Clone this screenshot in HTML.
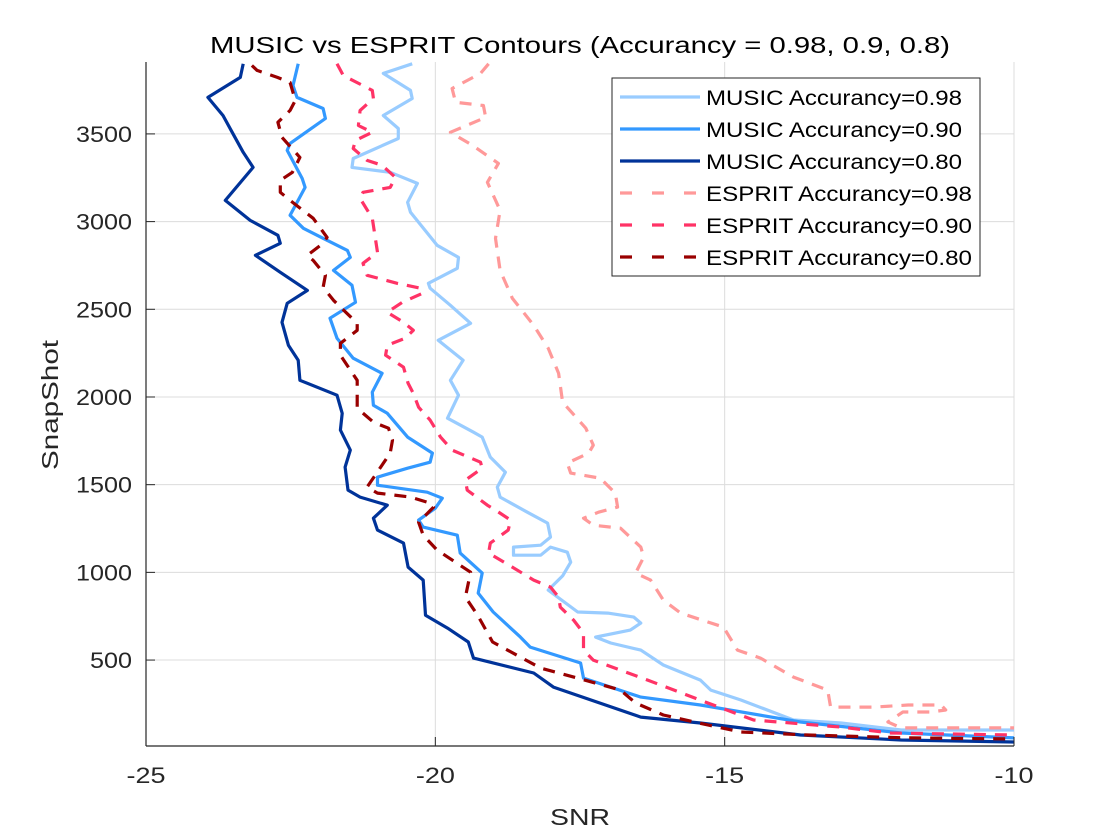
<!DOCTYPE html>
<html><head><meta charset="utf-8"><style>
body{margin:0;background:#fff;}
svg{display:block;font-family:"Liberation Sans",Arial,sans-serif;}
</style></head><body>
<svg id="chart" width="1120" height="840" viewBox="0 0 1120 840">
<rect x="0" y="0" width="1120" height="840" fill="#fff"/>
<g id="grid"></g>
<g id="series"></g>
<g id="axes"></g>
<text x="580" y="53" font-size="23" text-anchor="middle" fill="#000" textLength="740" lengthAdjust="spacingAndGlyphs">MUSIC vs ESPRIT Contours (Accurancy = 0.98, 0.9, 0.8)</text>
<text x="580" y="825" font-size="23" text-anchor="middle" fill="#262626" textLength="60" lengthAdjust="spacingAndGlyphs">SNR</text>
<text x="58" y="405" font-size="23" text-anchor="middle" fill="#262626" textLength="130" lengthAdjust="spacingAndGlyphs" transform="rotate(-90 58 405)">SnapShot</text>
<g id="legend"></g>
</svg>
<script>
const xTicks=[-25,-20,-15,-10];
const yTicks=[500,1000,1500,2000,2500,3000,3500];
const seriesNames=["MUSIC Accurancy=0.98","MUSIC Accurancy=0.90","MUSIC Accurancy=0.80","ESPRIT Accurancy=0.98","ESPRIT Accurancy=0.90","ESPRIT Accurancy=0.80"];
const musicA98=[[-20.40,3900],[-20.90,3845],[-20.43,3748],[-20.40,3702],[-20.90,3605],[-20.64,3531],[-20.64,3474],[-21.42,3360],[-21.44,3309],[-20.78,3281],[-20.31,3218],[-20.48,3110],[-20.43,3053],[-19.97,2865],[-19.60,2796],[-19.62,2734],[-20.12,2648],[-20.09,2620],[-19.74,2523],[-19.39,2420],[-19.95,2323],[-19.52,2209],[-19.74,2095],[-19.60,2010],[-19.79,1879],[-19.34,1799],[-19.19,1771],[-19.05,1657],[-18.79,1571],[-18.93,1486],[-18.88,1429],[-18.41,1343],[-18.06,1281],[-18.01,1201],[-18.18,1155],[-18.65,1144],[-18.65,1098],[-18.18,1098],[-18.01,1144],[-17.72,1115],[-17.66,1058],[-17.80,980],[-18.05,899],[-17.54,774],[-17.02,768],[-16.57,745],[-16.45,711],[-16.63,671],[-17.23,631],[-16.97,597],[-16.45,557],[-16.06,472],[-15.42,386],[-15.24,329],[-14.72,272],[-13.81,158],[-12.99,141],[-11.95,101],[-10,101]];
const musicA90=[[-22.37,3900],[-22.46,3776],[-22.39,3708],[-21.94,3645],[-21.90,3588],[-22.51,3446],[-22.56,3406],[-22.30,3246],[-22.25,3195],[-22.51,3036],[-22.28,2962],[-21.94,2905],[-21.52,2836],[-21.47,2796],[-21.76,2722],[-21.44,2637],[-21.38,2540],[-21.82,2449],[-21.70,2335],[-21.42,2221],[-20.92,2135],[-21.09,2027],[-21.07,1953],[-20.83,1907],[-20.48,1771],[-20.05,1680],[-20.09,1628],[-20.48,1594],[-21.00,1543],[-21.00,1497],[-20.14,1457],[-19.88,1423],[-20.00,1366],[-20.29,1298],[-20.21,1258],[-19.62,1212],[-19.57,1110],[-19.19,996],[-19.26,882],[-19.00,774],[-18.53,631],[-18.36,574],[-17.49,483],[-17.44,397],[-16.45,289],[-15.42,244],[-13.69,147],[-11.95,84],[-10,56]];
const musicA80=[[-23.32,3900],[-23.37,3822],[-23.93,3708],[-23.67,3605],[-23.51,3509],[-23.32,3395],[-23.15,3309],[-23.63,3121],[-23.20,3007],[-22.72,2922],[-22.68,2876],[-23.11,2808],[-22.68,2711],[-22.21,2608],[-22.56,2534],[-22.65,2426],[-22.54,2295],[-22.37,2209],[-22.34,2095],[-21.70,2010],[-21.61,1907],[-21.64,1811],[-21.47,1697],[-21.56,1600],[-21.51,1469],[-21.30,1429],[-20.83,1383],[-21.07,1309],[-21.00,1241],[-20.55,1167],[-20.47,1030],[-20.21,956],[-20.17,756],[-19.79,682],[-19.43,603],[-19.34,511],[-18.30,426],[-17.96,346],[-16.45,175],[-15.42,141],[-13.69,73],[-11.95,44],[-10,33]];
const espritA98=[[-19.08,3900],[-19.22,3845],[-19.71,3759],[-19.65,3680],[-19.17,3662],[-19.13,3594],[-19.74,3509],[-19.36,3435],[-18.91,3332],[-19.10,3224],[-18.88,3064],[-18.96,2905],[-18.88,2722],[-18.67,2563],[-18.30,2409],[-18.05,2278],[-17.87,2135],[-17.80,1970],[-17.40,1822],[-17.27,1725],[-17.35,1680],[-17.72,1623],[-17.66,1566],[-17.15,1537],[-16.89,1452],[-16.85,1372],[-17.18,1343],[-17.44,1309],[-17.27,1269],[-16.80,1252],[-16.45,1144],[-16.40,1087],[-16.54,996],[-16.28,956],[-16.06,842],[-15.76,768],[-15.02,688],[-14.78,557],[-14.38,511],[-13.81,403],[-13.22,329],[-13.17,232],[-12.42,232],[-11.83,244],[-11.26,244],[-11.18,215],[-11.44,204],[-11.92,204],[-12.18,147],[-11.95,113],[-10,113]];
const espritA90=[[-21.70,3900],[-21.59,3833],[-21.09,3748],[-21.07,3702],[-21.30,3634],[-21.33,3548],[-21.09,3509],[-21.38,3463],[-21.42,3417],[-21.18,3349],[-20.92,3321],[-20.69,3252],[-20.78,3195],[-21.25,3167],[-21.30,3132],[-21.09,3019],[-21.00,2825],[-21.25,2762],[-21.18,2694],[-20.66,2648],[-20.26,2620],[-20.22,2591],[-20.57,2540],[-20.83,2483],[-20.55,2426],[-20.38,2380],[-20.52,2335],[-20.83,2295],[-20.86,2238],[-20.55,2170],[-20.47,2078],[-20.38,2021],[-20.29,1942],[-20.09,1868],[-19.91,1771],[-19.71,1697],[-19.22,1628],[-19.19,1594],[-19.48,1526],[-19.45,1469],[-19.10,1383],[-18.96,1355],[-18.70,1298],[-18.74,1241],[-19.05,1167],[-19.08,1110],[-18.67,1030],[-18.30,956],[-18.01,916],[-17.87,859],[-17.84,802],[-17.61,728],[-17.44,654],[-17.44,557],[-17.27,500],[-16.33,386],[-15.29,255],[-14.50,158],[-12.99,118],[-12.13,84],[-10,73]];
const espritA80=[[-23.17,3890],[-23.08,3862],[-22.73,3822],[-22.51,3793],[-22.42,3691],[-22.51,3634],[-22.72,3566],[-22.65,3480],[-22.34,3366],[-22.47,3281],[-22.68,3235],[-22.68,3167],[-22.51,3121],[-22.11,3019],[-21.87,2910],[-21.94,2876],[-22.21,2808],[-22.11,2779],[-21.90,2694],[-21.94,2625],[-21.76,2551],[-21.35,2420],[-21.35,2380],[-21.64,2306],[-21.64,2238],[-21.35,2095],[-21.35,1936],[-21.07,1856],[-20.81,1822],[-20.74,1754],[-20.78,1680],[-21.04,1554],[-21.18,1486],[-21.00,1452],[-20.43,1429],[-20.09,1395],[-20.03,1372],[-20.29,1286],[-20.21,1212],[-19.97,1127],[-19.39,1001],[-19.48,859],[-19.27,756],[-19.01,603],[-18.53,517],[-18.18,454],[-17.54,397],[-16.80,329],[-16.54,255],[-16.06,187],[-15.29,130],[-14.72,90],[-13.56,73],[-11.83,56],[-10,50]];
const allSeries=[musicA98,musicA90,musicA80,espritA98,espritA90,espritA80];
const colors=["#99ccff","#3399ff","#003399","#ff9999","#ff3366","#990000"];
const dashed=[false,false,false,true,true,true];
const seriesKeys=["music-098","music-090","music-080","esprit-098","esprit-090","esprit-080"];

const X0=146,X1=1014,Y0=746,Y1=62,xMin=-25,xMax=-10,yMin=10,yMax=3910;
function sx(v){return X0+(v-xMin)/(xMax-xMin)*(X1-X0);}
function sy(v){return Y0-(v-yMin)/(yMax-yMin)*(Y0-Y1);}
const NS="http://www.w3.org/2000/svg";
function mk(tag,attrs,parent){const e=document.createElementNS(NS,tag);for(const k in attrs)e.setAttribute(k,attrs[k]);parent.appendChild(e);return e;}
const grid=document.getElementById('grid'),axes=document.getElementById('axes'),ser=document.getElementById('series'),leg=document.getElementById('legend');
xTicks.forEach(t=>{
  const g=mk('line',{x1:sx(t),x2:sx(t),y1:Y1,y2:Y0,stroke:'#dcdcdc','stroke-width':1},grid);
  
  
  const tk=mk('line',{x1:sx(t),x2:sx(t),y1:Y0,y2:Y0-9,stroke:'#262626','stroke-width':1},axes);
  
  
  const lbl=String(t);
  const tx=mk('text',{x:sx(t),y:Y0+37,'font-size':22,'text-anchor':'middle',fill:'#262626',textLength:13*lbl.length,lengthAdjust:'spacingAndGlyphs'},axes);
  tx.textContent=lbl;
  
  
});
yTicks.forEach(t=>{
  const g=mk('line',{x1:X0,x2:X1,y1:sy(t),y2:sy(t),stroke:'#dcdcdc','stroke-width':1},grid);
  
  
  const tk=mk('line',{x1:X0,x2:X0+9,y1:sy(t),y2:sy(t),stroke:'#262626','stroke-width':1},axes);
  
  
  const lbl=String(t);
  const tx=mk('text',{x:X0-14,y:sy(t)+8,'font-size':22,'text-anchor':'end',fill:'#262626',textLength:14*lbl.length,lengthAdjust:'spacingAndGlyphs'},axes);
  tx.textContent=lbl;
  
  
});
const xa=mk('line',{x1:X0,x2:X1,y1:Y0,y2:Y0,stroke:'#262626','stroke-width':1.2},axes);


const ya=mk('line',{x1:X0,x2:X0,y1:Y1,y2:Y0,stroke:'#262626','stroke-width':1.2},axes);



allSeries.forEach((s,i)=>{
  const d=s.map((p,j)=>(j?'L':'M')+sx(p[0]).toFixed(1)+','+sy(p[1]).toFixed(1)).join('');
  const attrs={d:d,fill:'none',stroke:colors[i],'stroke-width':3.2,'stroke-linejoin':'round'};
  if(dashed[i])attrs['stroke-dasharray']='12,9';
  const p=mk('path',attrs,ser);
  
  
});

const lb=mk('rect',{x:612,y:78,width:368,height:198,fill:'#fff',stroke:'#262626','stroke-width':1},leg);


const rowY=[97,129,161,193,225,257];
seriesNames.forEach((n,i)=>{
  const a={x1:620,x2:700,y1:rowY[i],y2:rowY[i],stroke:colors[i],'stroke-width':3.2};
  if(dashed[i])a['stroke-dasharray']='12,20';
  const l=mk('line',a,leg);
  
  
  const t=mk('text',{x:706,y:rowY[i]+8,'font-size':21,fill:'#000',textLength:(i<3?256:266),lengthAdjust:'spacingAndGlyphs'},leg);
  t.textContent=n;
  
  
});
</script>
</body></html>
